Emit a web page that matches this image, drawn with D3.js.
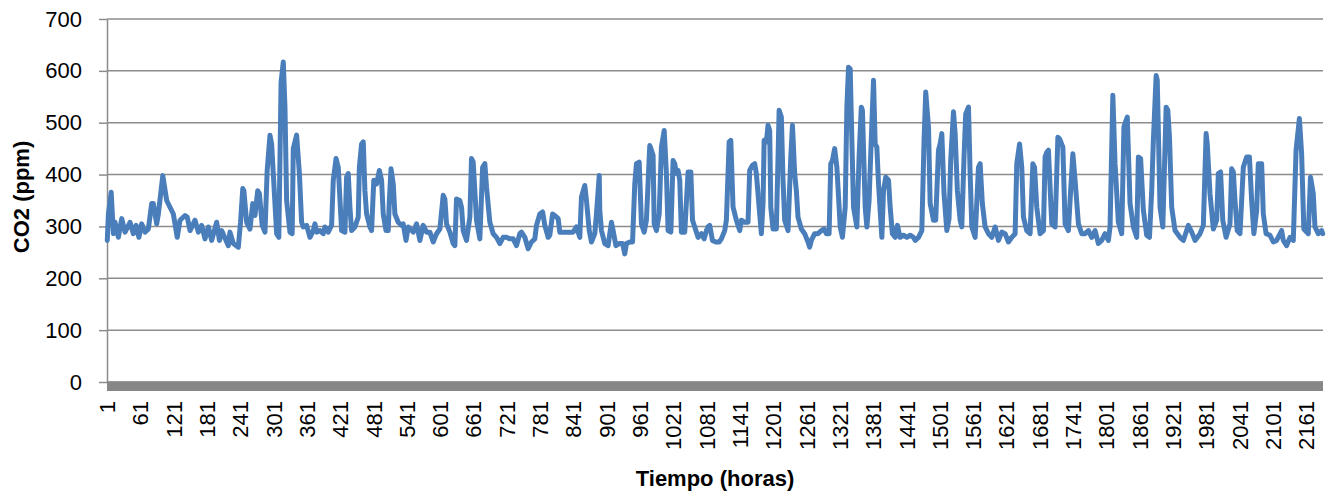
<!DOCTYPE html>
<html>
<head>
<meta charset="utf-8">
<script src="https://cdn.jsdelivr.net/npm/d3@7"></script>
<style>
    html, body { margin: 0; padding: 0; background: #ffffff; overflow: hidden; }
    svg { display: block; }
    text { font-family: "Liberation Sans", Arial, sans-serif; }
</style>
</head>
<body>
<div id="viz_co2"></div>
<script>
// constants
const margin = {top: 19, right: 7, bottom: 115, left: 107}
const width = 1330
const height = 497
const innerWidth = width - margin.left - margin.right
const innerHeight = height - margin.top - margin.bottom

const n_hours = 2190
const co2_min = 0
const co2_max = 700
const color_line = '#4a7ebb'
const color_grid = '#8c8c8c'

// tick labels
const yTicks = [0, 100, 200, 300, 400, 500, 600, 700]
const xTickLabels = [1, 61, 121, 181, 241, 301, 361, 421, 481, 541, 601, 661, 721, 781, 841, 901, 961,
    1021, 1081, 1141, 1201, 1261, 1321, 1381, 1441, 1501, 1561, 1621, 1681, 1741, 1801, 1861, 1921,
    1981, 2041, 2101, 2161]

// readings (hour, ppm) taken off the original curve
const hour = [
    // 1 - 347
    1, 3, 8, 12, 15, 21, 27, 33, 42, 48, 53, 58, 63, 69, 75, 81, 84, 90, 93, 101,
    108, 114, 120, 127, 132, 141, 145, 150, 159, 165, 171, 177, 183, 189, 198, 203, 207, 219, 222, 228,
    237, 241, 245, 247, 252, 258, 263, 267, 272, 275, 280, 285, 289, 294, 297, 300, 306, 310, 314, 318,
    321, 324, 330, 334, 336, 342, 347,
    // 351 - 714
    351, 354, 360, 366, 372, 375, 378, 384, 390, 393, 399, 405, 408, 413, 417, 423, 429, 432, 435, 438,
    441, 447, 453, 455, 459, 462, 465, 468, 474, 477, 481, 486, 491, 495, 498, 503, 507, 509, 512, 516,
    519, 525, 531, 534, 539, 543, 552, 558, 564, 570, 576, 582, 588, 594, 600, 606, 609, 612, 618, 624,
    627, 630, 636, 639, 642, 648, 654, 657, 660, 666, 672, 677, 681, 684, 690, 696, 702, 708, 714,
    // 720 - 1080
    720, 726, 732, 738, 744, 747, 753, 759, 765, 771, 774, 780, 785, 789, 795, 798, 803, 807, 813, 816,
    822, 840, 846, 852, 855, 861, 864, 869, 873, 879, 882, 887, 888, 891, 897, 903, 909, 912, 917, 923,
    929, 933, 936, 942, 947, 951, 954, 959, 963, 968, 972, 978, 981, 984, 986, 990, 995, 999, 1004, 1008,
    1011, 1016, 1020, 1023, 1026, 1029, 1032, 1035, 1041, 1047, 1052, 1055, 1059, 1065, 1071, 1076, 1080,
    // 1083 - 1441
    1083, 1086, 1091, 1097, 1103, 1107, 1113, 1116, 1121, 1124, 1128, 1134, 1140, 1143, 1149, 1155, 1158, 1163, 1167, 1170,
    1175, 1179, 1182, 1184, 1188, 1191, 1194, 1196, 1200, 1206, 1211, 1215, 1218, 1221, 1227, 1232, 1235, 1239, 1242, 1245,
    1251, 1257, 1263, 1266, 1269, 1275, 1281, 1287, 1292, 1296, 1301, 1304, 1307, 1311, 1315, 1321, 1325, 1330, 1333, 1336,
    1339, 1342, 1345, 1351, 1355, 1359, 1361, 1366, 1369, 1373, 1376, 1381, 1384, 1387, 1390, 1396, 1399, 1403, 1408, 1411,
    1415, 1420, 1424, 1429, 1435, 1441,
    // 1447 - 1798
    1447, 1453, 1456, 1462, 1468, 1472, 1475, 1480, 1483, 1489, 1493, 1498, 1501, 1504, 1508, 1513, 1517, 1520, 1525, 1528,
    1532, 1537, 1540, 1544, 1547, 1552, 1555, 1558, 1564, 1570, 1573, 1577, 1582, 1588, 1594, 1600, 1606, 1612, 1618, 1624,
    1630, 1636, 1639, 1644, 1648, 1651, 1657, 1663, 1668, 1671, 1675, 1681, 1687, 1690, 1693, 1696, 1702, 1708, 1713, 1716,
    1722, 1726, 1732, 1736, 1740, 1744, 1750, 1756, 1762, 1768, 1774, 1780, 1786, 1792, 1798,
    // 1804 - 2190
    1804, 1807, 1812, 1816, 1822, 1828, 1832, 1838, 1843, 1849, 1855, 1858, 1862, 1867, 1873, 1878, 1882, 1885, 1890, 1892,
    1897, 1902, 1908, 1911, 1914, 1918, 1924, 1933, 1939, 1948, 1954, 1960, 1969, 1975, 1980, 1982, 1987, 1993, 1999, 2002,
    2006, 2010, 2016, 2023, 2026, 2029, 2032, 2036, 2041, 2047, 2053, 2058, 2062, 2066, 2071, 2074, 2080, 2083, 2088, 2095,
    2101, 2107, 2116, 2119, 2125, 2131, 2137, 2142, 2148, 2152, 2156, 2164, 2168, 2173, 2176, 2182, 2188, 2190
]

const co2ppm = [
    // 1 - 347
    273, 324, 366, 286, 308, 279, 315, 289, 308, 286, 302, 279, 305, 289, 295, 344, 344, 305, 324, 398,
    350, 337, 324, 279, 312, 321, 318, 292, 312, 289, 302, 276, 299, 273, 308, 273, 292, 263, 289, 267,
    260, 308, 373, 369, 308, 295, 344, 321, 369, 363, 302, 289, 408, 476, 459, 402, 286, 279, 578, 617,
    530, 350, 289, 286, 450, 476, 402,
    // 351 - 714
    308, 299, 302, 279, 292, 305, 289, 292, 286, 299, 289, 302, 389, 431, 414, 292, 289, 395, 402, 337,
    292, 299, 318, 414, 459, 463, 369, 324, 299, 292, 389, 382, 408, 389, 324, 292, 292, 350, 411, 382,
    324, 308, 302, 305, 273, 299, 289, 305, 273, 302, 289, 289, 270, 286, 295, 360, 353, 305, 289, 267,
    263, 353, 350, 337, 292, 273, 318, 431, 424, 312, 276, 414, 421, 376, 308, 286, 279, 267, 279,
    // 720 - 1080
    279, 276, 276, 263, 286, 289, 279, 257, 270, 276, 302, 324, 328, 302, 279, 283, 324, 321, 315, 289,
    289, 289, 299, 279, 357, 379, 350, 292, 270, 286, 324, 398, 331, 292, 267, 263, 308, 292, 263, 267,
    267, 247, 267, 270, 270, 382, 421, 424, 305, 289, 312, 456, 447, 437, 305, 292, 324, 453, 485, 402,
    292, 289, 427, 421, 402, 408, 389, 289, 289, 405, 405, 312, 299, 279, 286, 276, 292,
    // 1083 - 1441
    299, 302, 273, 270, 270, 276, 292, 312, 463, 466, 337, 312, 292, 312, 308, 308, 408, 418, 421, 402,
    337, 286, 344, 466, 463, 495, 485, 337, 295, 295, 524, 511, 389, 312, 292, 434, 495, 402, 369, 318,
    295, 286, 270, 260, 273, 286, 286, 292, 295, 286, 286, 421, 427, 450, 414, 299, 279, 337, 530, 607,
    604, 466, 337, 299, 434, 530, 524, 337, 299, 350, 440, 582, 459, 453, 382, 279, 369, 395, 389, 337,
    286, 279, 302, 279, 283, 279,
    // 1447 - 1798
    283, 279, 273, 279, 292, 466, 559, 492, 344, 312, 312, 447, 459, 479, 363, 292, 315, 427, 521, 479,
    369, 312, 299, 434, 517, 530, 402, 299, 279, 414, 421, 344, 299, 286, 279, 299, 273, 289, 286, 270,
    279, 286, 421, 459, 414, 318, 292, 286, 421, 414, 337, 286, 292, 434, 443, 447, 305, 299, 472, 469,
    453, 305, 292, 369, 440, 389, 305, 286, 286, 292, 279, 292, 267, 273, 286,
    // 1804 - 2190
    273, 299, 553, 421, 308, 286, 492, 511, 344, 299, 279, 434, 431, 331, 283, 279, 369, 466, 591, 582,
    337, 299, 530, 524, 472, 337, 292, 279, 273, 302, 289, 273, 286, 302, 479, 459, 363, 295, 312, 402,
    405, 312, 279, 305, 411, 405, 350, 292, 286, 414, 434, 434, 350, 286, 331, 421, 421, 324, 286, 283,
    270, 273, 292, 273, 263, 279, 273, 447, 508, 440, 295, 286, 395, 363, 299, 286, 292, 286
]

function plotCO2() {
    if (hour.length != co2ppm.length) console.log('hour / co2 length mismatch', hour.length, co2ppm.length)
    const data = hour.map((h, i) => ({hour: h, co2: co2ppm[i]}))

    var svg = d3.select('#viz_co2')
                .append('svg')
                    .attr('width', width)
                    .attr('height', height)
    var g = svg.append('g')
                .attr('transform', `translate(${margin.left}, ${margin.top})`)

    // category axis: one slot per hour
    const x = d3.scaleLinear()
                .domain([0.5, n_hours + 0.5])
                .range([0, innerWidth])
    const y = d3.scaleLinear()
                .domain([co2_min, co2_max])
                .range([innerHeight, 0])

    // horizontal grid
    g.append('g')
        .selectAll('line')
        .data(yTicks)
        .join('line')
            .attr('x1', 0)
            .attr('x2', innerWidth)
            .attr('y1', d => y(d))
            .attr('y2', d => y(d))
            .attr('stroke', color_grid)
            .attr('stroke-width', 1.5)

    // y axis
    g.append('g')
        .call(d3.axisLeft(y)
                .tickValues(yTicks)
                .tickSize(8)
                .tickSizeOuter(0)
                .tickPadding(17))
        .call(g => g.select('.domain').attr('stroke', color_grid).attr('stroke-width', 1.5))
        .call(g => g.selectAll('.tick line').attr('stroke', color_grid).attr('stroke-width', 1.5))
        .call(g => g.selectAll('.tick text')
            .attr('fill', '#000')
            .style('font-size', '22px')
            .style('font-family', '"Liberation Sans", Arial, sans-serif'))

    // thick category axis line
    g.append('rect')
        .attr('x', 0)
        .attr('y', y(0) - 0.5)
        .attr('width', innerWidth)
        .attr('height', 9.5)
        .attr('fill', '#878787')

    // category labels, rotated inside their own groups
    g.append('g')
        .selectAll('g')
        .data(xTickLabels)
        .join('g')
            .attr('transform', d => `translate(${x(d)}, ${innerHeight + 19}) rotate(-90)`)
        .append('text')
            .attr('text-anchor', 'end')
            .attr('dy', '0.35em')
            .attr('font-size', 22)
            .attr('fill', '#000')
            .text(d => d)

    // co2 line
    g.append('path')
        .datum(data)
        .attr('d', d3.line()
            .x(d => x(d.hour))
            .y(d => y(d.co2)))
        .attr('fill', 'none')
        .attr('stroke', color_line)
        .attr('stroke-width', 5)
        .attr('stroke-linejoin', 'round')
        .attr('stroke-linecap', 'round')

    // axis titles
    svg.append('g')
        .attr('transform', `translate(21, 197) rotate(-90)`)
        .append('text')
            .attr('text-anchor', 'middle')
            .attr('dy', '0.35em')
            .attr('font-weight', 'bold')
            .attr('font-size', 22)
            .text('CO2 (ppm)')

    svg.append('text')
        .attr('x', margin.left + innerWidth / 2)
        .attr('y', 486)
        .attr('text-anchor', 'middle')
        .attr('font-weight', 'bold')
        .attr('font-size', 22)
        .text('Tiempo (horas)')
}

plotCO2()
</script>
</body>
</html>
